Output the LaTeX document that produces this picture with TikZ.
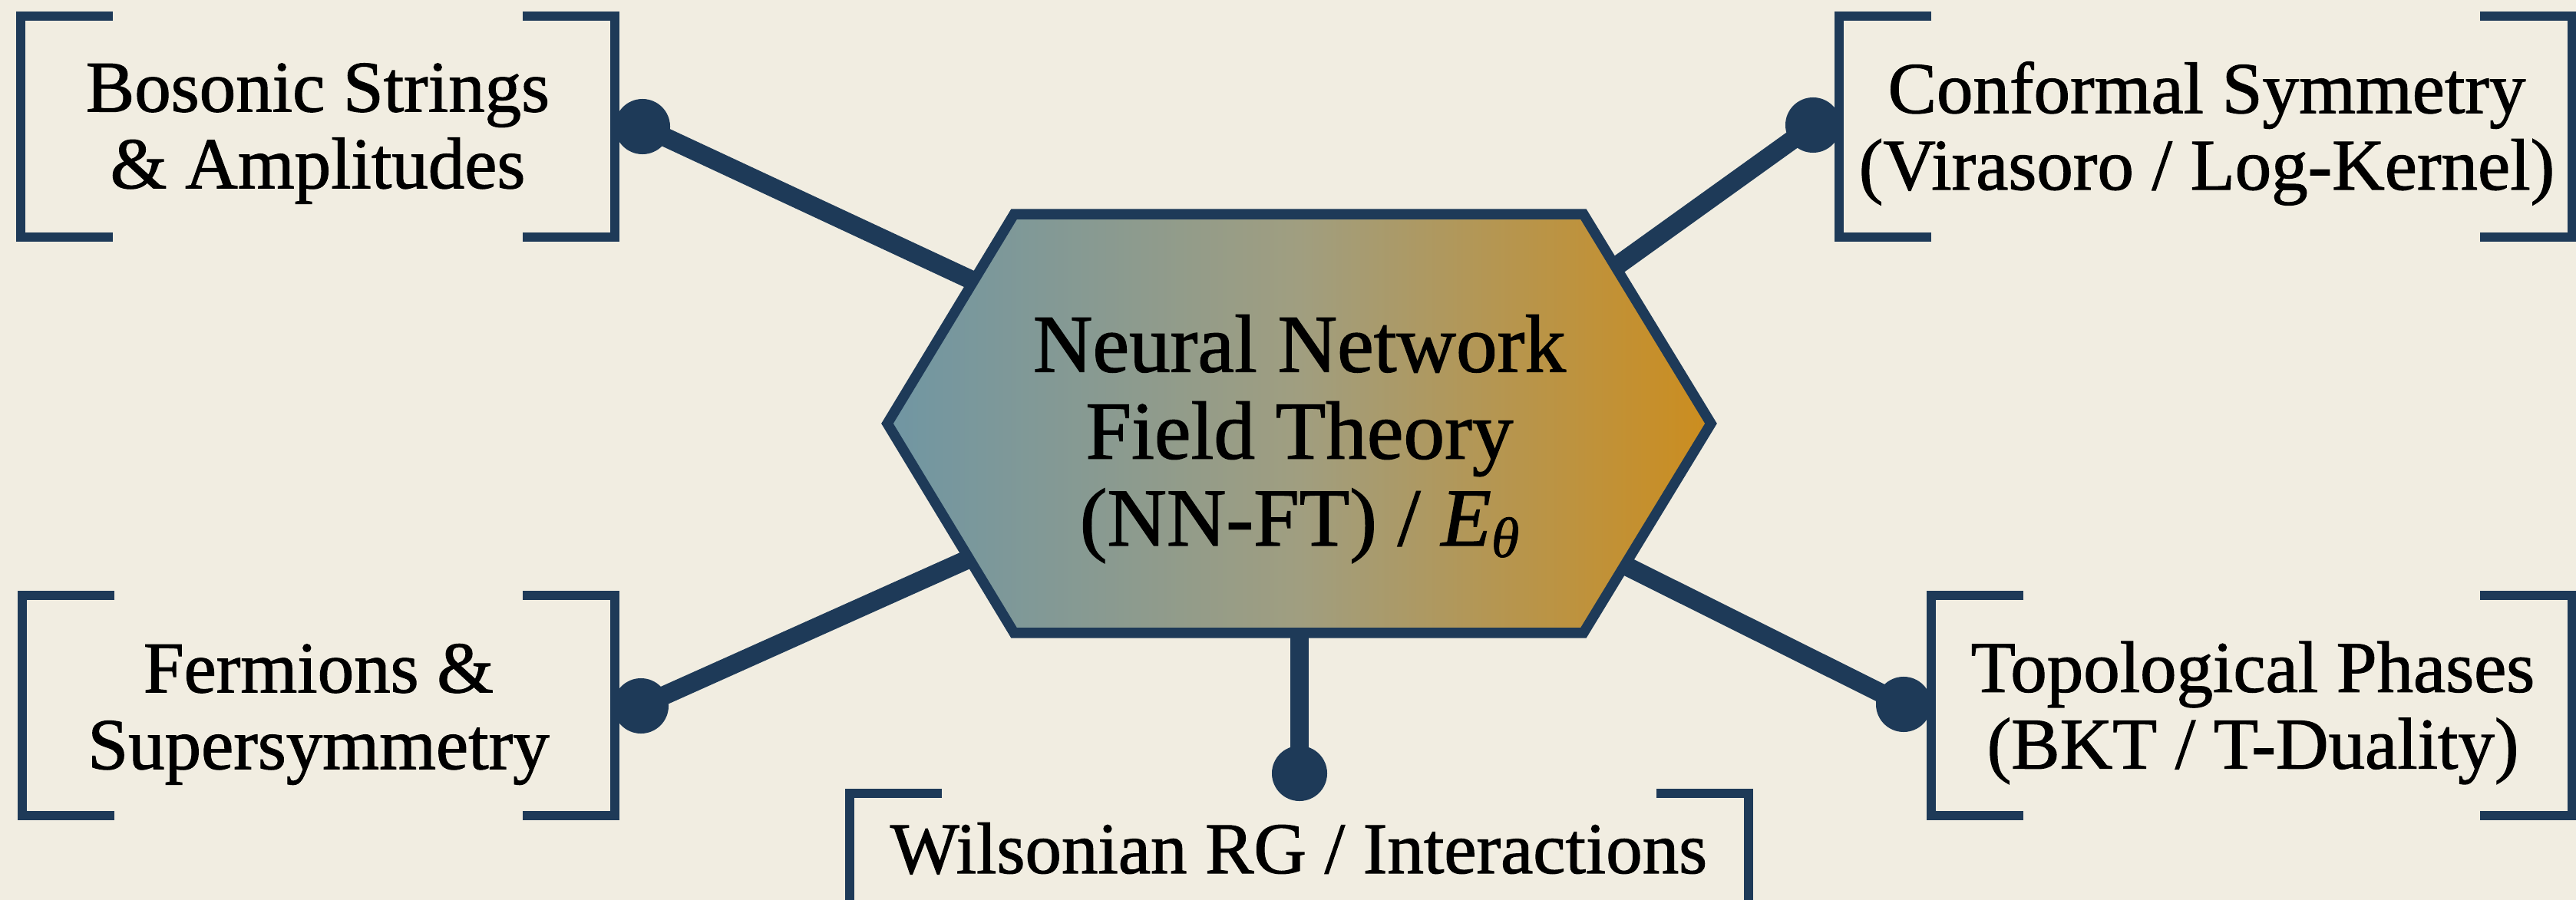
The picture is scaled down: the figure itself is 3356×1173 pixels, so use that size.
\documentclass[tikz,border=0pt]{standalone}
\usepackage{fontspec}
\setmainfont{Liberation Serif}[FakeBold=1.2]
\definecolor{bgc}{RGB}{241,237,225}
\definecolor{navy}{RGB}{30,58,88}
\definecolor{hexL}{RGB}{112,150,163}
\definecolor{hexM}{RGB}{160,158,128}
\definecolor{hexR}{RGB}{204,141,30}
\newcommand\drawbrackets[1]{%
  \draw[brk] ([xshift=1.2cm]#1.north west) -- (#1.north west) -- (#1.south west) -- ([xshift=1.2cm]#1.south west);
  \draw[brk] ([xshift=-1.2cm]#1.north east) -- (#1.north east) -- (#1.south east) -- ([xshift=-1.2cm]#1.south east);}
\begin{document}
\begin{tikzpicture}[x=0.01cm,y=-0.01cm,
  sidetext/.style={align=center, font=\fontsize{27}{28.4}\selectfont, text=black, inner sep=0pt},
  brk/.style={draw=navy, line width=3.3pt, line cap=butt, line join=miter},
  conn/.style={draw=navy, line width=7pt},
  dotn/.style={circle, fill=navy, minimum size=0.72cm, inner sep=0pt},
  hexborder/.style={draw=navy, line width=3.8pt, line join=miter}]
\useasboundingbox (0,0) rectangle (3356,1173);
\clip (0,0) rectangle (3356,1173);
\fill[bgc] (0,0) rectangle (3356,1173);

% bracket frames (no text) and their labels
\node[minimum width=7.72cm, minimum height=2.86cm, inner sep=0pt] (bosbox) at (414,165) {};
\node[minimum width=9.53cm, minimum height=2.86cm, inner sep=0pt] (confbox) at (2873.5,165) {};
\node[minimum width=7.70cm, minimum height=2.85cm, inner sep=0pt] (fermbox) at (415,919.5) {};
\node[minimum width=8.33cm, minimum height=2.85cm, inner sep=0pt] (topobox) at (2933.5,919.5) {};
\node[minimum width=11.69cm, minimum height=2.86cm, inner sep=0pt] (wilsbox) at (1692.5,1178) {};

\node[sidetext] (bos) at (414,174) {Bosonic Strings\\\& Amplitudes};
\node[sidetext] (conf) at (2875,174) {Conformal Symmetry\\(Virasoro / Log-Kernel)};
\node[sidetext] (ferm) at (415,931) {Fermions \&\\Supersymmetry};
\node[sidetext] (topo) at (2935,929) {Topological Phases\\(BKT / T-Duality)};
\node[sidetext, anchor=base] (wils) at (1692,1138) {Wilsonian RG / Interactions};

% dots
\node[dotn] (dTL) at (837,165) {};
\node[dotn] (dTR) at (2362,163) {};
\node[dotn] (dBL) at (835,920) {};
\node[dotn] (dBR) at (2480,918) {};
\node[dotn] (dB) at (1693,1008) {};

% connector ends (under the hexagon)
\coordinate (eTL) at (1300,381);
\coordinate (eTR) at (2082,364);
\coordinate (eBL) at (1290,716);
\coordinate (eBR) at (2095,726);
\coordinate (eB) at (1693,800);

\draw[conn] (dTL.center) -- (eTL);
\draw[conn] (dTR.center) -- (eTR);
\draw[conn] (dBL.center) -- (eBL);
\draw[conn] (dBR.center) -- (eBR);
\draw[conn] (dB.center) -- (eB);

% hexagon
\node[minimum width=10.71cm, minimum height=5.44cm, inner sep=0pt] (hex) at (1692.5,552) {};
\shade[left color=hexL, right color=hexR, middle color=hexM]
  (hex.west) -- ([xshift=1.65cm]hex.north west) -- ([xshift=-1.66cm]hex.north east) -- (hex.east)
  -- ([xshift=-1.66cm]hex.south east) -- ([xshift=1.65cm]hex.south west) -- cycle;
\draw[hexborder]
  (hex.west) -- ([xshift=1.65cm]hex.north west) -- ([xshift=-1.66cm]hex.north east) -- (hex.east)
  -- ([xshift=-1.66cm]hex.south east) -- ([xshift=1.65cm]hex.south west) -- cycle;
\node[align=center, font=\fontsize{30.5}{32.2}\selectfont, inner sep=0pt] (nnft) at (1693,572)
  {Neural Network\\Field Theory\\(NN-FT) / \textit{E}\raisebox{-0.3ex}{\fontsize{21}{21}\selectfont\textit{θ}}};

% brackets
\drawbrackets{bosbox}
\drawbrackets{confbox}
\drawbrackets{fermbox}
\drawbrackets{topobox}
\drawbrackets{wilsbox}
\end{tikzpicture}
\end{document}
